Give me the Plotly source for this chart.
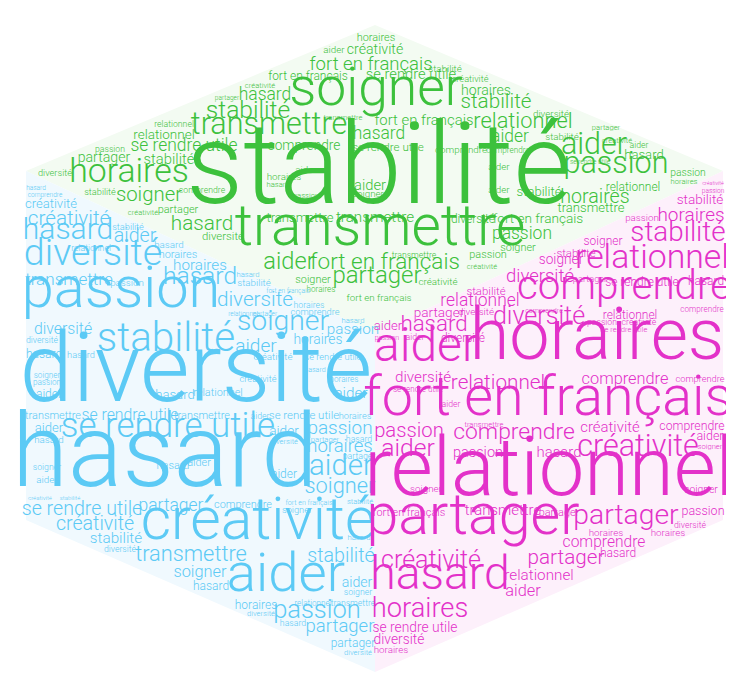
import plotly.graph_objects as go

# --- hexagon regions (outline points, page pixels) ---
green_zone_x = [367, 715, 367, 18, 367]
green_zone_y = [17, 163, 325, 163, 17]
blue_zone_x = [18, 367, 367, 18, 18]
blue_zone_y = [163, 325, 664, 512, 163]
pink_zone_x = [367, 715, 715, 367, 367]
pink_zone_y = [325, 163, 512, 664, 325]

# --- green words (top) ---
green_words = [
    "stabilité", "soigner", "transmettre", "transmettre", "horaires", "stabilité",
    "hasard", "fort en français", "fort en français", "créativité", "aider", "horaires",
    "se rendre utile", "créativité", "stabilité", "horaires", "stabilité", "relationnel",
    "fort en français", "passion", "aider", "hasard", "aider", "horaires",
    "passion", "horaires", "relationnel", "transmettre", "fort en français", "passion",
    "soigner", "passion", "fort en français", "partager", "aider", "créativité",
    "transmettre", "transmettre", "hasard", "diversité", "soigner", "stabilité",
    "partager", "se rendre utile", "relationnel", "relationnel", "comprendre", "horaires",
    "aider", "passion", "hasard", "se rendre utile", "comprendre", "comprendre",
    "stabilité", "créativité", "diversité", "partager", "créativité", "comprendre",
    "diversité", "stabilité", "aider", "soigner", "aider", "soigner",
    "horaires", "passion", "transmettre", "créativité", "partager", "diversité",
    "transmettre", "créativité", "fort en français", "aider", "aider", "stabilité",
    "se rendre utile", "partager", "hasard",
]
green_x = [
    371, 368, 372, 261, 121, 240,
    257, 363, 300, 367, 326, 368,
    403, 462, 437, 478, 488, 515,
    416, 608, 586, 636, 502, 587,
    680, 676, 625, 583, 530, 514,
    510, 480, 377, 369, 281, 430,
    292, 367, 194, 215, 141, 161,
    96, 176, 156, 166, 296, 276,
    298, 298, 371, 380, 453, 500,
    554, 609, 543, 170, 135, 194,
    47, 92, 362, 360, 631, 305,
    313, 102, 335, 252, 219, 465,
    406, 474, 371, 491, 491, 531,
    582, 598, 270,
]
green_y = [
    167, 84, 223, 118, 166, 104,
    88, 57, 69, 42, 43, 30,
    67, 72, 62, 83, 95, 115,
    113, 157, 138, 148, 130, 190,
    165, 174, 180, 201, 212, 227,
    240, 247, 255, 269, 255, 275,
    211, 210, 217, 229, 188, 152,
    150, 139, 128, 117, 139, 170,
    163, 188, 127, 140, 143, 143,
    130, 133, 107, 202, 205, 183,
    166, 185, 178, 187, 138, 272,
    282, 142, 110, 78, 90, 212,
    248, 259, 291, 160, 183, 185,
    154, 120, 177,
]
green_weight = [
    103, 49, 52, 28, 31, 22.6,
    16, 17, 11, 13, 9, 10,
    13.5, 8.5, 9, 13, 19, 20,
    13.7, 28, 28, 12, 16, 18,
    9.5, 7, 11, 12, 12.5, 16,
    10, 10, 20.7, 22, 21.7, 9,
    12, 14, 19, 10.5, 18.7, 13.6,
    13, 16, 12.4, 8, 12.6, 9,
    9, 7, 16, 10.7, 9, 7.5,
    9, 7, 9, 10, 7, 8,
    8.5, 8.5, 13.5, 9, 8, 10,
    7.5, 8, 7, 7, 6, 11,
    8, 7, 9, 9, 9, 12,
    6, 7, 7,
]

# --- blue words (left) ---
blue_words = [
    "diversité", "hasard", "passion", "stabilité", "se rendre utile", "créativité",
    "aider", "passion", "partager", "partager", "diversité", "transmettre",
    "soigner", "hasard", "horaires", "diversité", "hasard", "stabilité",
    "créativité", "se rendre utile", "partager", "comprendre", "stabilité", "aider",
    "soigner", "diversité", "relationnel", "transmettre", "horaires", "passion",
    "aider", "soigner", "partager", "hasard", "partager", "aider",
    "horaires", "se rendre utile", "transmettre", "transmettre", "se rendre utile", "aider",
    "hasard", "aider", "diversité", "aider", "hasard", "relationnel",
    "aider", "aider", "hasard", "aider", "soigner", "créativité",
    "stabilité", "stabilité", "fort en français", "soigner", "hasard",
    "hasard", "créativité", "créativité", "hasard", "comprendre", "aider",
    "stabilité", "diversité", "relationnel", "hasard", "horaires", "horaires",
    "hasard", "transmettre", "passion", "stabilité", "hasard", "diversité",
    "soigner", "horaires", "aider", "comprendre", "horaires", "passion",
    "hasard", "diversité", "diversité", "fort en français", "relationnel", "partager",
    "hasard", "hasard", "créativité", "se rendre utile", "aider", "horaires",
    "soigner", "passion", "hasard", "créativité",
]
blue_x = [
    188, 157, 113, 158, 160, 250,
    278, 309, 332, 345, 350, 183,
    192, 203, 248, 253, 285, 108,
    87, 74, 163, 235, 333, 349,
    350, 112, 305, 345, 332, 332,
    333, 332, 317, 351, 351, 343,
    336, 296, 194, 45, 122, 41,
    41, 276, 276, 276, 167, 210,
    41, 191, 165, 39, 39, 32,
    62, 352, 301, 289, 351,
    60, 61, 43, 28, 37, 127,
    120, 85, 83, 161, 170, 192,
    192, 61, 119, 246, 240, 247,
    275, 310, 248, 307, 301, 345,
    345, 55, 34, 280, 235, 257,
    36, 73, 265, 325, 252, 347,
    39, 39, 307, 250,
]
blue_y = [
    369, 453, 285, 333, 420, 516,
    569, 604, 619, 636, 645, 548,
    565, 579, 598, 606, 616, 531,
    517, 502, 499, 497, 549, 575,
    585, 542, 596, 596, 439, 421,
    460, 480, 432, 432, 449, 386,
    372, 408, 408, 408, 408, 421,
    433, 424, 434, 467, 388, 385,
    387, 455, 458, 473, 460, 491,
    491, 494, 495, 503, 530,
    224, 212, 197, 180, 187, 229,
    220, 248, 241, 238, 247, 258,
    270, 273, 276, 276, 267, 293,
    315, 333, 339, 305, 298, 322,
    313, 322, 333, 283, 306, 306,
    347, 348, 350, 350, 409, 409,
    368, 375, 362, 372,
]
blue_weight = [
    88, 93, 53, 37, 32, 54,
    50, 23.4, 17, 11, 7, 20,
    15, 11, 11, 7, 8, 14,
    18, 18, 16, 10, 18, 13,
    8, 8, 7.5, 8, 17, 17.4,
    27, 20, 7, 8, 8, 14,
    7.5, 10.5, 10, 10, 14.5, 12,
    9, 12.5, 7, 11, 12, 10,
    11, 10, 10, 9, 8, 5.5,
    5.5, 7, 6.5, 8.5, 7,
    27.5, 19, 12, 6, 6, 18,
    8.5, 34.5, 8, 9, 10, 14,
    22.6, 15.7, 9, 9, 7, 19,
    26, 12.7, 17.5, 8.5, 8, 14,
    7, 14.5, 8, 6, 6, 6,
    11, 8.5, 9, 8.5, 8, 8.5,
    7.5, 7.5, 6.5, 8.5,
]

# --- pink words (right) ---
pink_words = [
    "horaires", "aider", "fort en français", "relationnel", "partager", "hasard",
    "horaires", "se rendre utile", "diversité", "horaires", "créativité", "partager",
    "partager", "comprendre", "horaires", "horaires", "hasard", "relationnel",
    "aider", "transmettre", "partager", "fort en français", "passion", "diversité",
    "passion", "comprendre", "aider", "passion", "hasard", "créativité",
    "créativité", "comprendre", "aider", "soigner", "soigner", "soigner",
    "transmettre", "relationnel", "comprendre", "comprendre", "diversité", "se rendre utile",
    "aider", "stabilité", "horaires", "stabilité", "passion", "soigner",
    "relationnel", "stabilité", "soigner", "comprendre", "diversité", "partager",
    "se rendre utile", "hasard", "stabilité", "relationnel", "partager", "diversité",
    "diversité", "relationnel", "passion", "créativité", "se rendre utile", "hasard",
    "aider", "diversité", "comprendre", "passion", "créativité",
    "passion", "aider", "comprendre",
]
pink_x = [
    589, 418, 540, 541, 465, 432,
    412, 407, 391, 383, 423, 558,
    618, 596, 598, 660, 610, 531,
    515, 495, 551, 401, 695, 682,
    401, 506, 400, 470, 551, 630,
    602, 684, 702, 702, 418, 693,
    476, 490, 617, 692, 415, 410,
    443, 670, 683, 692, 634, 595,
    644, 568, 553, 616, 532, 582,
    634, 698, 478, 472, 431, 468,
    531, 622, 594, 631, 616, 426,
    380, 455, 536, 705, 705,
    379, 407, 694,
]
pink_y = [
    333, 341, 393, 467, 512, 569,
    602, 621, 633, 643, 554, 551,
    509, 535, 526, 526, 546, 568,
    584, 503, 505, 505, 504, 518,
    424, 425, 442, 445, 445, 440,
    420, 419, 429, 439, 482, 482,
    417, 376, 372, 372, 370, 382,
    397, 226, 208, 193, 211, 234,
    252, 246, 253, 281, 269, 272,
    275, 274, 284, 294, 306, 305,
    310, 308, 315, 315, 322, 317,
    319, 331, 303, 183, 176,
    330, 330, 302,
]
pink_weight = [
    66, 44, 51, 74.5, 52.6, 42.5,
    25, 12.7, 12.7, 9, 23, 19,
    26, 14.3, 9, 9, 11, 14,
    15, 13.7, 10, 10, 11.5, 8,
    18.6, 21, 22.6, 13.4, 13.7, 28,
    13.7, 11.3, 11.5, 7, 9, 9.5,
    7, 19, 15, 8.5, 14, 7.5,
    8, 25.5, 17.4, 12.5, 9, 11,
    31, 10.5, 12.6, 37, 17, 8.5,
    11, 11, 10.5, 16, 12.5, 9,
    23, 11, 8, 8, 7, 20.5,
    12, 11, 6.5, 6, 5,
    6.5, 8, 7.5,
]

# font size in px for one unit of weight
SIZE_SCALE = 1.09

zones = [
    (green_zone_x, green_zone_y, "#f3fbf2"),
    (blue_zone_x, blue_zone_y, "#f0f9fe"),
    (pink_zone_x, pink_zone_y, "#fdf0fb"),
]
clouds = [
    (green_words, green_x, green_y, green_weight, "#3cc13c"),
    (blue_words, blue_x, blue_y, blue_weight, "#5ccaf5"),
    (pink_words, pink_x, pink_y, pink_weight, "#e331c9"),
]

fig = go.Figure()
for zx, zy, col in zones:
    fig.add_trace(go.Scatter(x=zx, y=zy, mode="lines", fill="toself",
                             fillcolor=col, line=dict(width=0, color=col),
                             hoverinfo="skip", showlegend=False))

for words, xs, ys, ws, col in clouds:
    fig.add_trace(go.Scatter(
        x=xs, y=ys, text=words, mode="text",
        textposition="middle center",
        textfont=dict(family="Roboto Light, Roboto", size=[w * SIZE_SCALE for w in ws],
                      color=col, weight=300),
        hoverinfo="text", showlegend=False,
    ))

fig.update_layout(
    width=734, height=680,
    margin=dict(l=0, r=0, t=0, b=0),
    paper_bgcolor="white", plot_bgcolor="white",
    xaxis=dict(range=[0, 734], visible=False, fixedrange=True),
    yaxis=dict(range=[680, 0], visible=False, fixedrange=True),
)

fig.write_html("out.html")
